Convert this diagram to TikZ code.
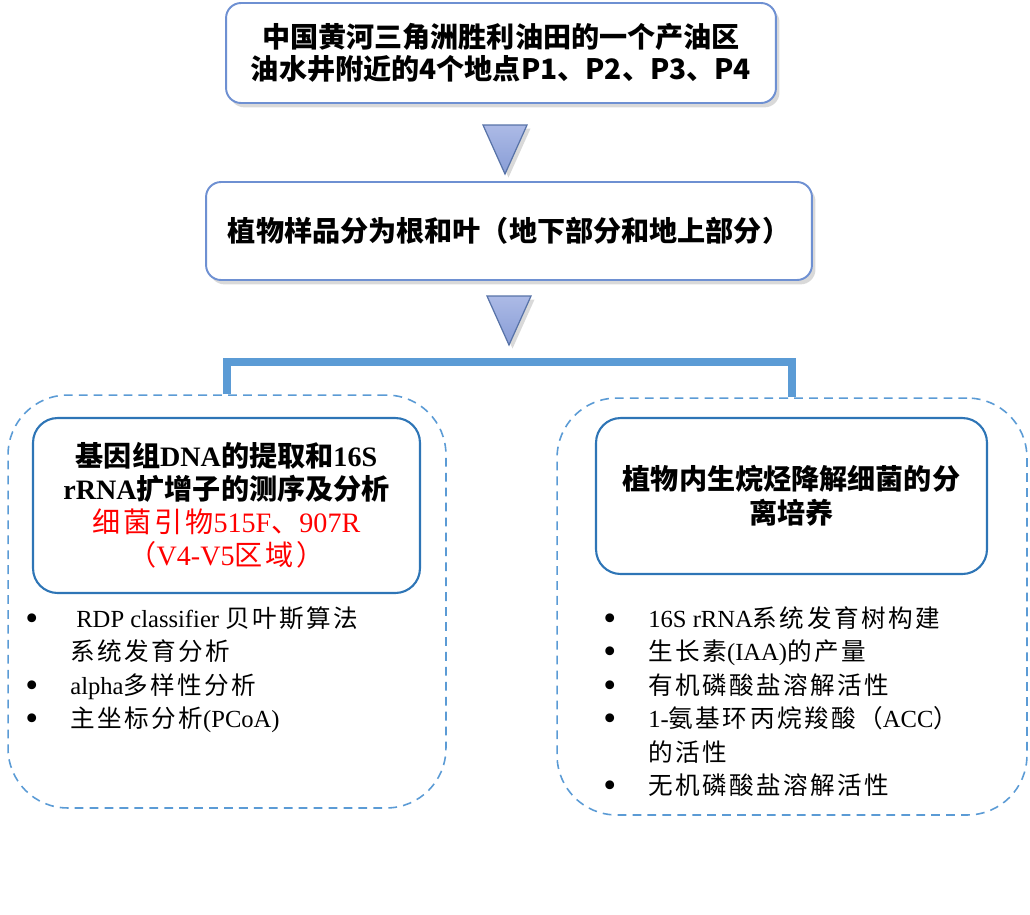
\documentclass[tikz,border=0pt]{standalone}
\usepackage{fontspec}
\setmainfont{Liberation Serif}
\newfontfamily\hei{Noto Sans CJK SC}
\newfontfamily\song[LetterSpace=10]{Noto Sans CJK SC}
\newfontfamily\songb{Noto Sans CJK SC}
\newcommand\zh[1]{{\song\mdseries #1}}
\newcommand\zhb[1]{{\songb\bfseries #1}}
\newcommand\bul{\raisebox{-1.8pt}{\fontsize{21}{0}\selectfont\textbullet}}
\usetikzlibrary{shadows}
\definecolor{frame}{RGB}{110,144,210}
\definecolor{inner}{RGB}{46,117,182}
\definecolor{bar}{RGB}{91,155,213}
\definecolor{tritop}{RGB}{172,186,230}
\definecolor{tribot}{RGB}{136,157,214}

\begin{document}
\begin{tikzpicture}[x=0.02cm, y=-0.02cm,
  hbox/.style={draw=frame, line width=1.1pt, rounded corners=8.5pt, fill=white, align=center, inner sep=0pt,
    drop shadow={shadow xshift=2pt, shadow yshift=-2.5pt, opacity=0.3},
    font=\hei\bfseries\fontsize{16}{18.2}\selectfont},
  ibox/.style={draw=inner, line width=1.2pt, rounded corners=14pt, align=center, inner sep=0pt},
  grp/.style={draw=bar, line width=0.9pt, dash pattern=on 5pt off 3.5pt, rounded corners=34pt, inner sep=0pt},
  tri/.style={draw=frame!80!black, line width=0.7pt, top color=tritop, bottom color=tribot,
    drop shadow={shadow xshift=2pt, shadow yshift=-2pt, opacity=0.3}},
  barline/.style={draw=bar, line width=4.5pt},
  lst/.style={anchor=base west, inner sep=0pt, font=\fontsize{14}{19.1}\selectfont}]
\useasboundingbox (0,0) rectangle (1030,914);
\node[hbox, minimum width=11cm, minimum height=2cm] (site) at (501,53) {中国黄河三角洲胜利油田的一个产油区\\油水井附近的4个地点P1、P2、P3、P4};
\node[hbox, minimum width=12.12cm, minimum height=1.96cm] (sample) at (509,231) {植物样品分为根和叶（地下部分和地上部分）};
\foreach \x/\y in {505/125, 509/296} \draw[tri] (\x-22,\y) -- (\x+22,\y) -- (\x,\y+49) -- cycle;
\node[grp, minimum width=8.76cm, minimum height=8.26cm] (seqgrp) at (227,601.5) {};
\node[grp, minimum width=9.4cm, minimum height=8.34cm] (isogrp) at (792,606.5) {};
\coordinate (fork) at (509,362);
\draw[barline] (seqgrp.north) |- (fork) -| (isogrp.north);
\node[ibox, minimum width=7.74cm, minimum height=3.5cm, font=\bfseries\fontsize{16}{18.7}\selectfont] (seq) at (226.5,505.5)
  {\zhb{基因组}DNA\zhb{的提取和}16S\\rRNA\zhb{扩增子的测序及分析}\\
   \textcolor{red}{\mdseries\zh{细菌引物}515F\zh{、}907R}\\\textcolor{red}{\mdseries\zh{（}V4-V5\zh{区域）}}};
\node[ibox, minimum width=7.82cm, minimum height=3.12cm, font=\hei\bfseries\fontsize{16}{19.5}\selectfont] (iso) at (791.5,496)
  {植物内生烷烃降解细菌的分\\离培养};
\node[lst] (seqlist) at (25,627) {\begin{tabular}[t]{@{}p{0.9cm}@{}l@{}}
  \bul & \hspace{0.12cm}RDP classifier \zh{贝叶斯算法}\\
       & \zh{系统发育分析}\\
  \bul & alpha\zh{多样性分析}\\
  \bul & \zh{主坐标分析}(PCoA)
\end{tabular}};
\node[lst] (isolist) at (603,627) {\begin{tabular}[t]{@{}p{0.9cm}@{}l@{}}
  \bul & 16S rRNA\zh{系统发育树构建}\\
  \bul & \zh{生长素}(IAA)\zh{的产量}\\
  \bul & \zh{有机磷酸盐溶解活性}\\
  \bul & 1-\zh{氨基环丙烷羧酸（}ACC\zh{）}\\
       & \zh{的活性}\\
  \bul & \zh{无机磷酸盐溶解活性}
\end{tabular}};
\end{tikzpicture}
\end{document}
